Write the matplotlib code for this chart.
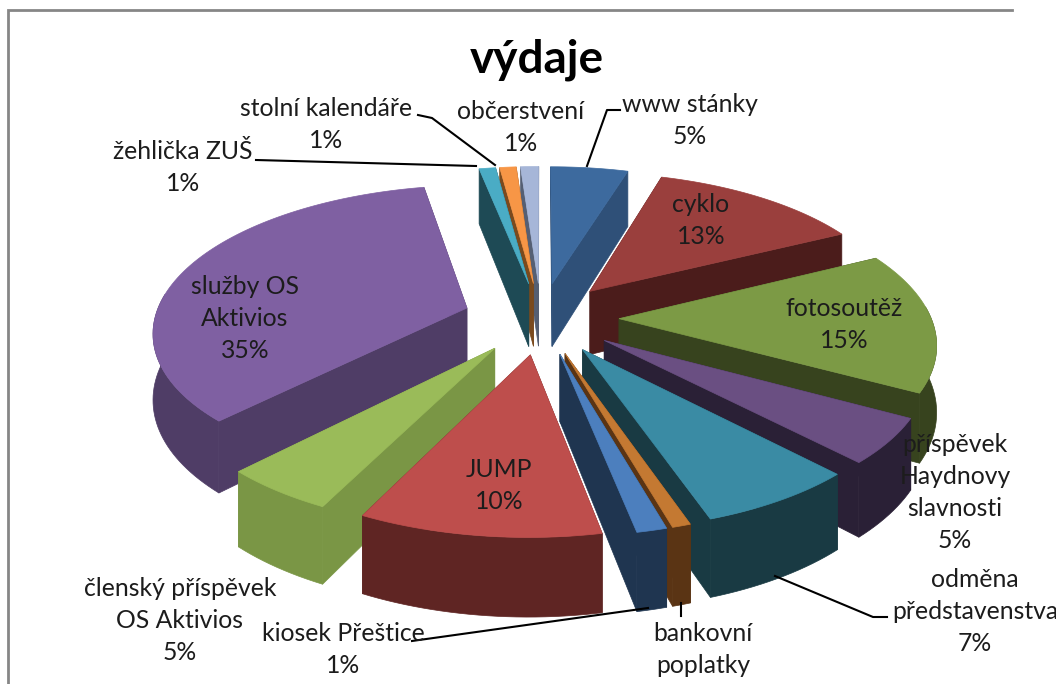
import math
import matplotlib
matplotlib.use('Agg')
import matplotlib.pyplot as plt

plt.rcParams['font.family'] = ['Lato', 'DejaVu Sans']

#### chart data
labels = ['www stánky', 'cyklo', 'fotosoutěž', 'příspěvek\nHaydnovy\nslavnosti', 'odměna\npředstavenstva',
          'bankovní\npoplatky', 'kiosek Přeštice', 'JUMP', 'členský příspěvek\nOS Aktivios',
          'služby OS\nAktivios', 'žehlička ZUŠ', 'stolní kalendáře', 'občerstvení']
values = [4.7, 12.9, 15.4, 4.9, 6.9, 0.8, 1.3, 10.4, 4.9, 34.7, 1, 1, 1.1]
shown = ['5%', '13%', '15%', '5%', '7%', '', '1%', '10%', '5%', '35%', '1%', '1%', '1%']

top_colors = ['#3D6A9E', '#9A3F3D', '#7C9A45', '#6A4F82', '#3A8BA4', '#C47932', '#4C7FBE',
              '#BE4E4C', '#9ABB59', '#7F60A2', '#4AACC5', '#F79646', '#A6B6D8']
wall_colors = ['#2F5078', '#4B1C1B', '#37431E', '#2A2036', '#193A43', '#5A3414', '#1F3550',
               '#5F2523', '#7A9645', '#4F3D66', '#1E4A55', '#7A4A1E', '#555F73']

# label centre x, y of first line (pixels)
label_pos = [(690, 105), (701, 205), (844, 309), (955, 445), (975, 580),
             (703, 634), (343, 634), (499, 470), (180, 589),
             (245, 287), (183, 152), (326, 109), (521, 112)]

# leader lines (pixels)
leaders = [[(587, 166), (607, 110), (620, 110)],
           [(495, 165), (432, 118), (418, 115)],
           [(476, 166), (256, 160)],
           [(681, 603), (681, 616)],
           [(648, 608), (412, 641)],
           [(775, 576), (873, 617), (887, 617)]]

# pie geometry
CX, CY = 541, 318
R, EXPLODE = 312, 78
TILT, DIST, DEPTH = 0.46, 2118, 65


def project(wx, wy, low=False):
    p = 1 / (1 + wy / DIST)
    y = CY - TILT * wy * p
    if low:
        y += DEPTH * p
    return CX + wx * p, y


fig = plt.figure(figsize=(10.56, 6.84), dpi=100)
ax = fig.add_axes([0, 0, 1, 1])
ax.set_xlim(0, 1056)
ax.set_ylim(684, 0)
ax.axis('off')

# frame of the pasted chart
ax.plot([8, 8, 1012], [684, 10, 10], color='#868686', lw=2, solid_joinstyle='miter')

total = sum(values)
slices = []
start = 0
for i, v in enumerate(values):
    t0 = 2 * math.pi * start / total
    t1 = 2 * math.pi * (start + v) / total
    slices.append((i, t0, t1))
    start += v

# back slices first
slices.sort(key=lambda s: -math.cos((s[1] + s[2]) / 2))

for i, t0, t1 in slices:
    mid = (t0 + t1) / 2
    ox, oy = EXPLODE * math.sin(mid), EXPLODE * math.cos(mid)
    n = max(3, int((t1 - t0) * 40))
    angles = [t0 + (t1 - t0) * k / n for k in range(n + 1)]
    rim = [(ox + R * math.sin(a), oy + R * math.cos(a)) for a in angles]
    apex = (ox, oy)

    # radial walls
    for end in (rim[0], rim[-1]):
        pts = [project(*apex), project(*end), project(*end, low=True), project(*apex, low=True)]
        ax.fill(*zip(*pts), color=wall_colors[i], lw=0.5, zorder=2)

    # outer wall, only the part facing us
    front = [q for q, a in zip(rim, angles) if math.cos(a) < 0.1]
    if len(front) > 1:
        pts = [project(*q) for q in front] + [project(*q, low=True) for q in front[::-1]]
        ax.fill(*zip(*pts), color=wall_colors[i], lw=0.5, zorder=2)

    # top face
    pts = [project(*apex)] + [project(*q) for q in rim]
    ax.fill(*zip(*pts), color=top_colors[i], lw=0.5, zorder=2)

for line in leaders:
    ax.plot(*zip(*line), color='black', lw=1.5, zorder=3)

for name, pct, (x, y) in zip(labels, shown, label_pos):
    txt = name + ('\n' + pct if pct else '')
    ax.text(x, y - 12, txt, ha='center', va='top', fontsize=17.8, color='#1c1c1c',
            linespacing=1.48, zorder=4)

ax.text(537, 60, 'výdaje', ha='center', va='center', fontsize=33, fontweight='bold', color='black', zorder=4)

fig.savefig('out.png', dpi=100)
